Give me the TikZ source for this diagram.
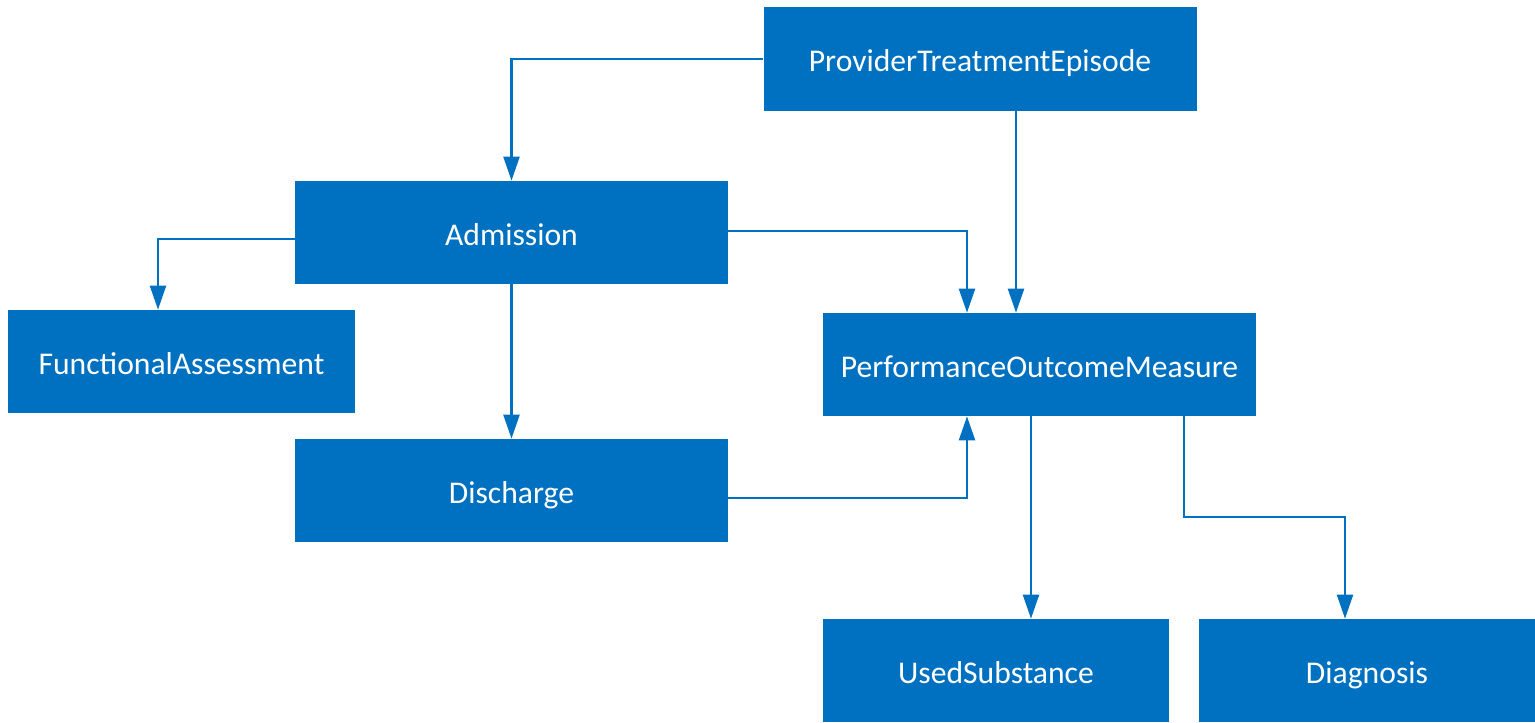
\documentclass[tikz,border=0pt]{standalone}
\usepackage{fontspec}
\setmainfont{Carlito}
\usepackage{xcolor}
\definecolor{boxblue}{HTML}{0070C0}
\usetikzlibrary{arrows.meta}

\tikzset{
  entity/.style={fill=boxblue, draw=none, text=white, inner sep=0pt,
    minimum width=8.66cm, minimum height=2.06cm,
    text height=0.5cm, text depth=0cm,
    font=\fontsize{18}{22}\selectfont},
  link/.style={draw=boxblue, line width=1.3pt,
    -{Triangle[width=0.32cm,length=0.48cm]}},
}

\begin{document}
\begin{tikzpicture}
\useasboundingbox (0,0) rectangle (30.7,-14.46);
%\draw[step=1cm,gray,very thin] (0,0) grid (30.7,-14.46); %background grid
\node[entity] (pte) at (19.6,-1.18) {ProviderTreatmentEpisode}; %top
\node[entity] (adm) at (10.23,-4.65) {Admission}; %admission
\node[entity, minimum width=6.94cm] (fa) at (3.63,-7.23) {FunctionalAssessment}; %assessment
\node[entity] (pom) at (20.79,-7.29) {PerformanceOutcomeMeasure}; %measure
\node[entity] (dis) at (10.23,-9.81) {Discharge}; %discharge
\node[entity, minimum width=6.92cm] (us) at (19.92,-13.41) {UsedSubstance}; %substance
\node[entity, minimum width=6.72cm] (diag) at (27.34,-13.41) {Diagnosis}; %diagnosis
\draw[link] (pte.west) -| (adm.north);
\draw[link] ([xshift=0.72cm]pte.south) -- ([xshift=0.72cm]pte.south |- pom.north);
\draw[link] ([yshift=0.03cm]adm.east) -| ([xshift=-1.45cm]pom.north);
\draw[link] ([yshift=-0.13cm]adm.west) -| ([xshift=-0.47cm]fa.north);
\draw[link] (adm.south) -- (dis.north);
\draw[link] ([yshift=-0.15cm]dis.east) -| ([xshift=-1.45cm]pom.south);
\draw[link] ([xshift=-0.17cm]pom.south) -- ([xshift=-0.17cm]pom.south |- us.north);
\draw[link] ([xshift=2.89cm]pom.south) -- ++(0,-2.02) -| ([xshift=-0.44cm]diag.north);
\end{tikzpicture}
\end{document}
